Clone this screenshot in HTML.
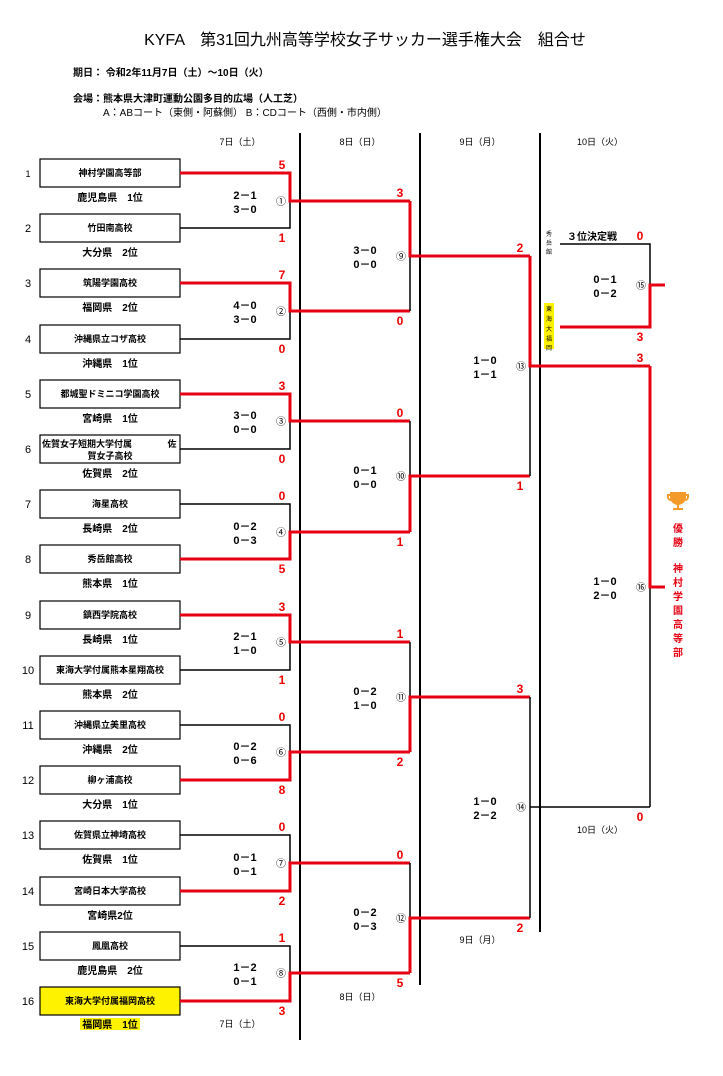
<!DOCTYPE html>
<html><head><meta charset="utf-8"><style>
html,body{margin:0;padding:0;background:#fff;}
svg{display:block;font-family:"Liberation Sans","Noto Sans CJK JP",sans-serif;}
.t{font-size:9px;font-weight:bold;text-anchor:middle;}
.p{font-size:10px;font-weight:bold;text-anchor:middle;}
.n{font-size:11px;text-anchor:middle;}
.s{font-size:12px;font-weight:bold;fill:#e00;text-anchor:middle;}
.h{font-size:11px;font-weight:bold;text-anchor:middle;}
.c{font-size:10px;text-anchor:middle;}
.d{font-size:9px;text-anchor:middle;}
.r{stroke:#e60012;stroke-width:3;fill:none;}
.b{stroke:#000;stroke-width:1.5;fill:none;}
</style></head><body>
<svg width="723" height="1076" viewBox="0 0 723 1076" xmlns="http://www.w3.org/2000/svg">
<text x="365" y="45" font-size="16" text-anchor="middle">KYFA　第31回九州高等学校女子サッカー選手権大会　組合せ</text>
<text x="73" y="76" font-size="10" font-weight="bold">期日：  令和2年11月7日（土）～10日（火）</text>
<text x="73" y="102" font-size="10" font-weight="bold">会場：熊本県大津町運動公園多目的広場（人工芝）</text>
<text x="103" y="116" font-size="10">A：ABコート（東側・阿蘇側）  B：CDコート（西側・市内側）</text>

<text x="240" y="145" class="d">7日（土）</text>
<text x="360" y="145" class="d">8日（日）</text>
<text x="480" y="145" class="d">9日（月）</text>
<text x="600" y="145" class="d">10日（火）</text>
<line x1="300" y1="133" x2="300" y2="1040" stroke="#000" stroke-width="2"/>
<line x1="420" y1="133" x2="420" y2="985" stroke="#000" stroke-width="2"/>
<line x1="540" y1="133" x2="540" y2="932" stroke="#000" stroke-width="2"/>
<text x="360" y="1000" class="d">8日（日）</text>
<text x="240" y="1027" class="d">7日（土）</text>
<text x="480" y="943" class="d">9日（月）</text>
<text x="600" y="833" class="d">10日（火）</text>

<g stroke="#000" stroke-width="1.2" fill="none">
<rect x="40" y="159" width="140" height="28"/><rect x="40" y="214" width="140" height="28"/>
<rect x="40" y="269" width="140" height="28"/><rect x="40" y="325" width="140" height="28"/>
<rect x="40" y="380" width="140" height="28"/><rect x="40" y="435" width="140" height="28"/>
<rect x="40" y="490" width="140" height="28"/><rect x="40" y="545" width="140" height="28"/>
<rect x="40" y="601" width="140" height="28"/><rect x="40" y="656" width="140" height="28"/>
<rect x="40" y="711" width="140" height="28"/><rect x="40" y="766" width="140" height="28"/>
<rect x="40" y="821" width="140" height="28"/><rect x="40" y="877" width="140" height="28"/>
<rect x="40" y="932" width="140" height="28"/>
</g>
<rect x="40" y="987" width="140" height="28" fill="#fff200" stroke="#000" stroke-width="1.2"/>
<rect x="80" y="1018" width="60" height="12" fill="#fff200"/>

<g class="n">
<text x="28" y="177" font-size="9">1</text><text x="28" y="232">2</text><text x="28" y="287">3</text><text x="28" y="343">4</text>
<text x="28" y="398">5</text><text x="28" y="453">6</text><text x="28" y="508">7</text><text x="28" y="563">8</text>
<text x="28" y="619">9</text><text x="28" y="674">10</text><text x="28" y="729">11</text><text x="28" y="784">12</text>
<text x="28" y="839">13</text><text x="28" y="895">14</text><text x="28" y="950">15</text><text x="28" y="1005">16</text>
</g>
<g class="t">
<text x="110" y="176">神村学園高等部</text><text x="110" y="231">竹田南高校</text>
<text x="110" y="286">筑陽学園高校</text><text x="110" y="342">沖縄県立コザ高校</text>
<text x="110" y="397">都城聖ドミニコ学園高校</text>
<text x="42" y="447" text-anchor="start">佐賀女子短期大学付属</text><text x="172" y="447">佐</text><text x="110" y="459">賀女子高校</text>
<text x="110" y="507">海星高校</text><text x="110" y="562">秀岳館高校</text>
<text x="110" y="618">鎮西学院高校</text><text x="110" y="673">東海大学付属熊本星翔高校</text>
<text x="110" y="728">沖縄県立美里高校</text><text x="110" y="783">柳ヶ浦高校</text>
<text x="110" y="838">佐賀県立神埼高校</text><text x="110" y="894">宮崎日本大学高校</text>
<text x="110" y="949">鳳凰高校</text><text x="110" y="1004">東海大学付属福岡高校</text>
</g>
<g class="p">
<text x="110" y="201">鹿児島県　1位</text><text x="110" y="256">大分県　2位</text>
<text x="110" y="311">福岡県　2位</text><text x="110" y="367">沖縄県　1位</text>
<text x="110" y="422">宮崎県　1位</text><text x="110" y="477">佐賀県　2位</text>
<text x="110" y="532">長崎県　2位</text><text x="110" y="587">熊本県　1位</text>
<text x="110" y="643">長崎県　1位</text><text x="110" y="698">熊本県　2位</text>
<text x="110" y="753">沖縄県　2位</text><text x="110" y="808">大分県　1位</text>
<text x="110" y="863">佐賀県　1位</text><text x="110" y="919">宮崎県2位</text>
<text x="110" y="974">鹿児島県　2位</text><text x="110" y="1028">福岡県　1位</text>
</g>

<path class="b" d="M180 228H290V201 M180 339H290V311 M180 449H290V421 M180 504H290V532 M180 670H290V642 M180 725H290V752 M180 835H290V863 M180 946H290V973"/>
<path class="r" d="M180 173H290V201H410 M180 283H290V311H410 M180 394H290V421H410 M180 559H290V532H410 M180 615H290V642H410 M180 780H290V752H410 M180 891H290V863H410 M180 1001H290V973H410"/>
<path class="b" d="M410 311V256 M410 421V476 M410 642V697 M410 863V918"/>
<path class="r" d="M410 201V256H530 M410 532V476H530 M410 752V697H530 M410 973V918H530"/>
<path class="b" d="M530 476V366 M530 697V918 M530 807H650"/>
<path class="r" d="M530 256V366H650"/>
<path class="b" d="M650 587V807"/>
<path class="r" d="M650 366V587H665"/>
<path class="b" d="M560 244H650V285"/>
<path class="r" d="M560 327H650V285H665"/>

<g class="s">
<text x="282" y="169">5</text><text x="282" y="242">1</text>
<text x="282" y="279">7</text><text x="282" y="353">0</text>
<text x="282" y="390">3</text><text x="282" y="463">0</text>
<text x="282" y="500">0</text><text x="282" y="573">5</text>
<text x="282" y="611">3</text><text x="282" y="684">1</text>
<text x="282" y="721">0</text><text x="282" y="794">8</text>
<text x="282" y="831">0</text><text x="282" y="905">2</text>
<text x="282" y="942">1</text><text x="282" y="1015">3</text>
<text x="400" y="197">3</text><text x="400" y="325">0</text>
<text x="400" y="417">0</text><text x="400" y="546">1</text>
<text x="400" y="638">1</text><text x="400" y="766">2</text>
<text x="400" y="859">0</text><text x="400" y="987">5</text>
<text x="520" y="252">2</text><text x="520" y="490">1</text>
<text x="520" y="693">3</text><text x="520" y="932">2</text>
<text x="640" y="362">3</text><text x="640" y="821">0</text>
<text x="640" y="240">0</text><text x="640" y="341">3</text>
</g>
<g class="h">
<text x="245" y="199">2－1</text><text x="245" y="213">3－0</text>
<text x="245" y="309">4－0</text><text x="245" y="323">3－0</text>
<text x="245" y="419">3－0</text><text x="245" y="433">0－0</text>
<text x="245" y="530">0－2</text><text x="245" y="544">0－3</text>
<text x="245" y="640">2－1</text><text x="245" y="654">1－0</text>
<text x="245" y="750">0－2</text><text x="245" y="764">0－6</text>
<text x="245" y="861">0－1</text><text x="245" y="875">0－1</text>
<text x="245" y="971">1－2</text><text x="245" y="985">0－1</text>
<text x="365" y="254">3－0</text><text x="365" y="268">0－0</text>
<text x="365" y="474">0－1</text><text x="365" y="488">0－0</text>
<text x="365" y="695">0－2</text><text x="365" y="709">1－0</text>
<text x="365" y="916">0－2</text><text x="365" y="930">0－3</text>
<text x="485" y="364">1－0</text><text x="485" y="378">1－1</text>
<text x="485" y="805">1－0</text><text x="485" y="819">2－2</text>
<text x="605" y="283">0－1</text><text x="605" y="297">0－2</text>
<text x="605" y="585">1－0</text><text x="605" y="599">2－0</text>
</g>
<g class="c">
<text x="281" y="205">①</text><text x="281" y="315">②</text><text x="281" y="425">③</text><text x="281" y="536">④</text>
<text x="281" y="646">⑤</text><text x="281" y="756">⑥</text><text x="281" y="867">⑦</text><text x="281" y="977">⑧</text>
<text x="401" y="260">⑨</text><text x="401" y="480">⑩</text><text x="401" y="701">⑪</text><text x="401" y="922">⑫</text>
<text x="521" y="370">⑬</text><text x="521" y="811">⑭</text>
<text x="641" y="289">⑮</text><text x="641" y="591">⑯</text>
</g>

<g font-size="6" text-anchor="middle">
<text x="549" y="236">秀</text><text x="549" y="245">岳</text><text x="549" y="254">館</text>
</g>
<text x="592" y="240" font-size="10" font-weight="bold" text-anchor="middle">３位決定戦</text>
<rect x="544" y="303" width="10" height="46" fill="#fff200"/>
<g font-size="6" text-anchor="middle">
<text x="549" y="311">東</text><text x="549" y="321">海</text><text x="549" y="331">大</text><text x="549" y="341">福</text><text x="549" y="350">岡</text>
</g>

<g fill="#f39a2b">
<path d="M670 492h16v5a8 8 0 0 1-16 0z"/>
<path d="M670 494h-3v3a4 4 0 0 0 4 4v-2a2 2 0 0 1-2-2v-1h1z M686 494h3v3a4 4 0 0 1-4 4v-2a2 2 0 0 0 2-2v-1h-1z"/>
<rect x="677" y="504" width="2" height="4"/><rect x="673" y="508" width="10" height="2"/>
</g>
<g font-size="10" font-weight="bold" fill="#e60012" text-anchor="middle">
<text x="678" y="532">優</text><text x="678" y="546">勝</text>
<text x="678" y="572">神</text><text x="678" y="586">村</text><text x="678" y="600">学</text><text x="678" y="614">園</text><text x="678" y="628">高</text><text x="678" y="642">等</text><text x="678" y="656">部</text>
</g>
</svg>
</body></html>
